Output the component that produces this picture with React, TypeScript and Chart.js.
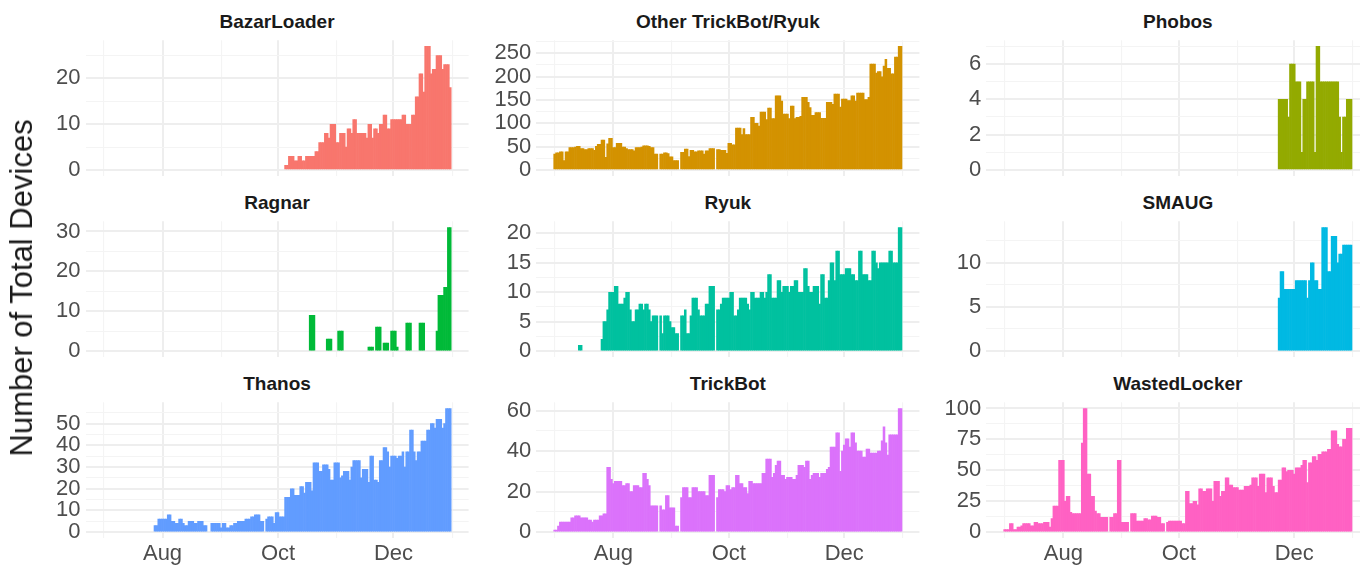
import React, { useEffect, useRef } from "react";
import { Chart, registerables } from "chart.js";

Chart.register(...registerables);

const FONT = "'Liberation Sans', Arial, Helvetica, sans-serif";

// Day index 0 = 1 July; one bar per day
const monthTickDays = [0, 31, 62, 92, 123, 153, 184];
const monthTickLabels = ["", "Aug", "", "Oct", "", "Dec", ""];

const panelNames = [
  "BazarLoader",
  "Other TrickBot/Ryuk",
  "Phobos",
  "Ragnar",
  "Ryuk",
  "SMAUG",
  "Thanos",
  "TrickBot",
  "WastedLocker",
];

const panelColors = [
  "#F8766D",
  "#D39200",
  "#93AA00",
  "#00BA38",
  "#00C19F",
  "#00B9E3",
  "#619CFF",
  "#DB72FB",
  "#FF61C3",
];

const bazarStart = 96;
const bazarValues: (number | null)[] = [
  1, 1, 3, 3, 3, 2, 2, 3, 3, 2, 2, 3, 3, 3, 3, 3, 4, 4, 6, 6, 6, 8, 8, 7, 10, 10, 10, 6, 6, 8, 8, 8, 5, 9, 9, 8,
  11, 11, 8, 8, 8, 8, 8, 7, 10, 10, 7, 9, 9, 8, 10, 10, 12, 12, 9, 9, 11, 11, 11, 11, 11, 11, 12, 12, 10, 10, 10,
  12, 12, 16, 16, 21, 21, 17, 27, 27, 27, 21, 22, 22, 25, 25, 25, 22, 23, 23, 23, 18,
];

const otherStart = 0;
const otherValues: (number | null)[] = [
  34, 37, 37, 39, 39, 20, 39, 39, 48, 48,
  48, 49, 51, 51, 46, 46, 44, 44, 46, 46,
  46, 42, 51, 55, 55, 64, 64, 27, 56, 68,
  68, 48, 48, 57, 57, 57, 49, 49, 46, 44,
  44, 44, 41, 48, 48, 48, 49, 52, 52, 52,
  51, 48, 48, 34, 34, null, 34, 34, 37, 37,
  35, 28, 28, 20, 20, 20, null, 38, 38, 45,
  45, 29, 42, 42, 39, 39, 41, 41, 41, 34,
  41, 41, 46, 46, 46, null, 44, 44, 42, 42,
  42, 36, 57, 57, 54, 54, 90, 90, 90, 76,
  89, 76, 76, 76, 113, 113, 100, 100, 94, 124,
  124, 124, 108, 133, 133, 110, 110, 159, 159, 159,
  148, 120, 120, 120, 110, 137, 137, 110, 113, 113,
  115, 156, 156, 156, 145, 134, 117, 117, 123, 123,
  123, 111, 111, 111, 145, 145, 145, 141, 163, 163,
  163, 135, 152, 152, 152, 149, 149, 159, 159, 148,
  165, 165, 165, 165, 151, 151, 156, 227, 227, 227,
  208, 211, 211, 200, 223, 237, 218, 218, 206, 206,
  242, 242, 265, 265,
];

const phobosStart = 145;
const phobosValues: (number | null)[] = [
  4, 4, 4, 4, 4, 3, 6, 6, 6, 5, 5, 5, 1, 4, 4, 5, 5, 5, 5, 1, 7, 7, 5, 5, 5, 5, 5, 5, 5, 5, 5, 5, 3, 1, 3, 3, 4, 4, 4,
];

const ragnarStart = 109;
const ragnarValues: (number | null)[] = [
  9, 9, 9, null, null, null, null, null, null, 3, 3, 3, null, null, null, 5, 5, 5,
  null, null, null, null, null, null, null, null, null, null, null, null, null,
  1, 1, 1, null, 6, 6, 6, null, 2, 2, 2, null, 5, 5, 5, 1, null, null, null, null,
  7, 7, 7, null, null, null, null, 7, 7, 7, null, null, null, null, null, null,
  5, 14, 14, 14, 16, 16, 31, 31,
];

const ryukStart = 13;
const ryukValues: (number | null)[] = [
  1, 1, null, null, null, null, null, null, null, null, null, null, 2, 5, 5, 7, 10, 10, 10, 11, 11, 8, 8, 8, 9,
  10, 10, 7, 5, 5, 7, 7, 8, 8, 7, 8, 8, 7, 5, 6, 6, 6, null, 6, 3, 6, 6, 6, 5, 4, 4, 3, 3, null, 6, 6, 7, 3, 3,
  6, 9, 9, 9, 7, 6, 6, 6, 8, 8, 11, 11, 11, null, 7, 7, 8, 9, 9, 9, 9, 10, 10, 6, 6, 7, 9, 9, 9, 9, 8, 7, 10,
  10, 9, 9, 9, 10, 10, 9, 10, 13, 13, 9, 9, 9, 12, 12, 10, 11, 11, 11, 10, 11, 11, 12, 12, 10, 10, 10, 14, 14,
  11, 10, 10, 11, 11, 11, 8, 13, 13, 9, 9, 12, 15, 15, 12, 17, 17, 13, 13, 13, 14, 14, 14, 13, 13, 12, 12, 17,
  17, 13, 13, 13, 12, 12, 17, 17, 15, 14, 15, 15, 15, 15, 15, 17, 17, 15, 15, 15, 21, 21,
];

const smaugStart = 145;
const smaugValues: (number | null)[] = [
  6, 9, 9, 7, 7, 7, 7, 7, 7, 8, 8, 8, 8, 8, 8, 6, 8, 10, 10, 8, 8, 7, 7, 14, 14, 14, 9, 9, 13, 13, 13, 10, 11, 11,
  12, 12, 12, 12, 12,
];

const thanosStart = 27;
const thanosValues: (number | null)[] = [
  3, 3, 6, 6, 6, 6, 6, 8, 8, 5, 5, 4, 4, 6, 6, 4, 3, 3, 5, 5, 5, 4, 4, 5, 5, 5, 3, 3, null, null, 4, 4, 4, 4, 4,
  2, 4, 4, 2, 2, 3, 3, 4, 4, 5, 5, 5, 5, 6, 6, 6, 7, 7, 8, 8, 8, 5, 5, null, 6, 7, 7, 7, 4, 9, 9, 7, 7, 7, 16,
  16, 16, 20, 20, 17, 17, 17, 21, 21, 18, 23, 23, 23, 19, 32, 32, 32, 28, 28, 31, 31, 31, 29, 24, 24, 32, 32,
  32, 25, 26, 28, 28, 28, 24, 30, 33, 33, 33, 33, 25, 29, 29, 29, 23, 35, 35, 24, 24, 23, 33, 33, 39, 39, 37,
  30, 35, 35, 35, 34, 35, 35, 37, 30, 37, 37, 47, 47, 37, 33, 37, 37, 42, 42, 42, 47, 47, 50, 50, 48, 52, 52,
  52, 48, 50, 57, 57, 57,
];

const trickbotStart = 0;
const trickbotValues: (number | null)[] = [
  1, 1, 3, 5, 5, 5, 5, 5, 5, 7, 7, 8, 8, 8, 7, 7, 7, 7, 6, 6, 5, 6, 6, 6, 8, 8, 9, 9, 32, 32, 26, 24, 25, 25, 25,
  25, 23, 23, 24, 24, 20, 20, 23, 23, 23, 22, 22, 29, 29, 26, 23, 13, 13, 13, 13, null, 13, 11, 11, 18, 18, 12,
  12, 12, 3, 3, null, 17, 22, 22, 22, 17, 17, 22, 22, 22, 20, 20, 20, 20, 18, 18, 28, 28, 28, null, 17, 21, 21,
  21, 20, 23, 23, 21, 22, 22, 28, 28, 24, 24, 22, 22, 19, 25, 25, 24, 24, 24, 24, 24, 29, 29, 36, 36, 36, 27,
  29, 33, 35, 35, 28, 28, 26, 27, 27, 27, 26, 26, 28, 33, 33, 33, 32, 35, 35, 26, 28, 29, 29, 29, 27, 29, 29,
  29, 31, 32, 42, 42, 42, 49, 49, 30, 40, 43, 46, 46, 42, 49, 49, 44, 40, 40, 40, 37, 37, 41, 41, 39, 39, 39,
  39, 40, 40, 45, 52, 44, 38, 48, 48, 48, 48, 48, 61, 61,
];

const wastedStart = 0;
const wastedValues: (number | null)[] = [
  2, 2, 2, 7, 7, 2, 2, 4, 4, 5, 7, 7, 7, 7, 5, 5, 8, 8, 7, 7, 7, 8, 8, 8, 4, 11, 21, 21, 21, 58, 58, 58, 25, 29,
  29, 16, 15, 15, 15, 15, 15, 72, 100, 100, 47, 47, 29, 29, 17, 15, 15, 12, 12, 12, 12, null, 12, 12, 15, 15, 58,
  58, 8, 8, 8, 8, null, 15, 15, 15, 9, 9, 9, 9, 11, 11, 10, 10, 13, 13, 13, 12, 12, 7, 7, null, 8, 9, 9, 9, 9,
  9, 9, 9, 7, 7, 33, 33, 23, 23, 25, 25, 22, 35, 35, 33, 33, 35, 35, 35, 25, 41, 41, 41, 29, 33, 33, 44, 44, 38,
  38, 36, 36, 36, 34, 34, 34, 37, 37, 37, 38, 44, 44, 44, 37, 47, 47, 47, 32, 44, 44, 44, 37, 32, 32, 42, 42, 52,
  52, 49, 50, 50, 50, 47, 52, 52, 52, 54, 58, 58, 40, 56, 56, 61, 61, 58, 63, 63, 65, 65, 65, 67, 67, 82, 82, 82,
  71, 69, 69, 75, 75, 84, 84, 84,
];

const bazarTicks = [0, 10, 20];
const otherTicks = [0, 50, 100, 150, 200, 250];
const phobosTicks = [0, 2, 4, 6];
const ragnarTicks = [0, 10, 20, 30];
const ryukTicks = [0, 5, 10, 15, 20];
const smaugTicks = [0, 5, 10];
const thanosTicks = [0, 10, 20, 30, 40, 50];
const trickbotTicks = [0, 20, 40, 60];
const wastedTicks = [0, 25, 50, 75, 100];

const panelStarts = [bazarStart, otherStart, phobosStart, ragnarStart, ryukStart, smaugStart, thanosStart, trickbotStart, wastedStart];
const panelValues = [bazarValues, otherValues, phobosValues, ragnarValues, ryukValues, smaugValues, thanosValues, trickbotValues, wastedValues];
const panelTicks = [bazarTicks, otherTicks, phobosTicks, ragnarTicks, ryukTicks, smaugTicks, thanosTicks, trickbotTicks, wastedTicks];

// ---------- layout (pixels) ----------
const VIEW_W = 1360;
const VIEW_H = 567;
const X_MIN = -9.7;
const X_MAX = 192.7;
const COL_LEFT = [85.5, 536.3, 986.3];
const PANEL_W = 383.1;
const ROW_TOP = [40.2, 221.3, 402.3];
const PANEL_H = 136;
const Y_AXIS_W = 70;
const X_AXIS_H = 30;
const PAD = 16;

const GRID_MAJOR = "#EEEEEE";
const GRID_MINOR = "#F4F4F4";
const TICK_COLOR = "#4D4D4D";

function Panel({ idx }: { idx: number }) {
  const ref = useRef<HTMLCanvasElement | null>(null);
  const r = Math.floor(idx / 3);
  const c = idx % 3;
  const left = COL_LEFT[c];
  const top = ROW_TOP[r];
  const right = Math.min(left + PANEL_W, VIEW_W);
  const xMax = X_MIN + ((right - left) / PANEL_W) * (X_MAX - X_MIN);
  const bottomRow = r === 2;
  const bottom = top + PANEL_H;
  const xh = bottomRow ? X_AXIS_H : 0;
  const canvasL = Math.floor(left - Y_AXIS_W);
  const canvasT = Math.floor(top - PAD);
  const canvasR = Math.ceil(right);
  const canvasB = Math.ceil(bottom + xh + PAD);
  const w = canvasR - canvasL;
  const h = canvasB - canvasT;

  useEffect(() => {
    const canvas = ref.current;
    if (!canvas) return;
    const values = panelValues[idx];
    const start = panelStarts[idx];
    const majors = panelTicks[idx];
    const maxV = Math.max(...(values.filter((v) => v !== null) as number[]));
    const step = majors[1] - majors[0];
    const yTicks: { value: number; isMajor: boolean }[] = [];
    for (let k = 0; k * (step / 2) <= maxV * 1.05; k++) {
      const v = k * (step / 2);
      yTicks.push({ value: v, isMajor: k % 2 === 0 });
    }
    const pts = values
      .map((v, i) => ({ x: start + i, y: v }))
      .filter((p) => p.y !== null);

    const chart = new Chart(canvas, {
      type: "bar",
      data: {
        datasets: [
          {
            data: pts as any,
            backgroundColor: panelColors[idx],
            borderWidth: 0,
            barPercentage: 1,
            categoryPercentage: 1,
          },
        ],
      },
      options: {
        animation: false,
        responsive: false,
        maintainAspectRatio: false,
        devicePixelRatio: 1,
        layout: {
          padding: {
            left: left - Y_AXIS_W - canvasL,
            top: top - canvasT,
            right: canvasR - right,
            bottom: canvasB - bottom - xh,
          },
        },
        plugins: {
          legend: { display: false },
          tooltip: { enabled: false },
          title: { display: false },
        },
        scales: {
          x: {
            type: "linear",
            min: X_MIN,
            max: xMax,
            bounds: "data",
            offset: false,
            grid: {
              offset: false,
              drawTicks: false,
              color: (ctx: any) => (ctx.tick && ctx.tick.isMajor ? GRID_MAJOR : GRID_MINOR),
              lineWidth: (ctx: any) => (ctx.tick && ctx.tick.isMajor ? 2 : 1.1),
            },
            border: { display: false },
            ticks: {
              display: bottomRow,
              autoSkip: false,
              maxRotation: 0,
              minRotation: 0,
              padding: 2,
              color: TICK_COLOR,
              font: { family: FONT, size: 22 },
              callback: (_v: any, i: number) => monthTickLabels[i] || "",
            },
            afterBuildTicks: (scale: any) => {
              scale.ticks = monthTickDays.map((d, i) => ({ value: d, isMajor: monthTickLabels[i] !== "" }));
            },
            afterFit: (scale: any) => {
              scale.height = xh;
              scale.paddingLeft = 0;
              scale.paddingRight = 0;
            },
          } as any,
          y: {
            type: "linear",
            min: -0.05 * maxV,
            max: 1.05 * maxV,
            bounds: "data",
            grid: {
              drawTicks: false,
              color: (ctx: any) => (ctx.tick && ctx.tick.isMajor ? GRID_MAJOR : GRID_MINOR),
              lineWidth: (ctx: any) => (ctx.tick && ctx.tick.isMajor ? 2 : 1.1),
            },
            border: { display: false },
            ticks: {
              autoSkip: false,
              padding: 5,
              color: TICK_COLOR,
              font: { family: FONT, size: 22 },
              callback: (v: any, i: number, ticks: any[]) => (ticks[i] && ticks[i].isMajor ? String(v) : ""),
            },
            afterBuildTicks: (scale: any) => {
              scale.ticks = yTicks.map((t) => ({ ...t }));
            },
            afterFit: (scale: any) => {
              scale.width = Y_AXIS_W;
              scale.paddingTop = 0;
              scale.paddingBottom = 0;
            },
          } as any,
        },
      },
    });
    return () => chart.destroy();
  }, [idx]);

  return (
    <canvas
      ref={ref}
      width={w}
      height={h}
      style={{ position: "absolute", left: canvasL, top: canvasT, width: w, height: h }}
    />
  );
}

export default function App() {
  return (
    <div
      style={{
        position: "absolute",
        left: 0,
        top: 0,
        width: VIEW_W,
        height: VIEW_H,
        overflow: "hidden",
        background: "#FFFFFF",
      }}
    >
      {panelNames.map((name, i) => {
        const r = Math.floor(i / 3);
        const c = i % 3;
        return (
          <div
            key={"t" + i}
            style={{
              position: "absolute",
              left: COL_LEFT[c],
              width: PANEL_W,
              top: ROW_TOP[r] - 30,
              height: 24,
              lineHeight: "24px",
              textAlign: "center",
              fontFamily: FONT,
              fontWeight: "bold",
              fontSize: 19,
              color: "#1A1A1A",
              whiteSpace: "nowrap",
            }}
          >
            {name}
          </div>
        );
      })}
      {panelNames.map((_, i) => (
        <Panel key={"p" + i} idx={i} />
      ))}
      <div
        style={{
          position: "absolute",
          left: 22,
          top: 288,
          transform: "translate(-50%, -50%) rotate(-90deg)",
          fontFamily: FONT,
          fontSize: 31,
          color: "#1A1A1A",
          whiteSpace: "nowrap",
        }}
      >
        Number of Total Devices
      </div>
    </div>
  );
}
